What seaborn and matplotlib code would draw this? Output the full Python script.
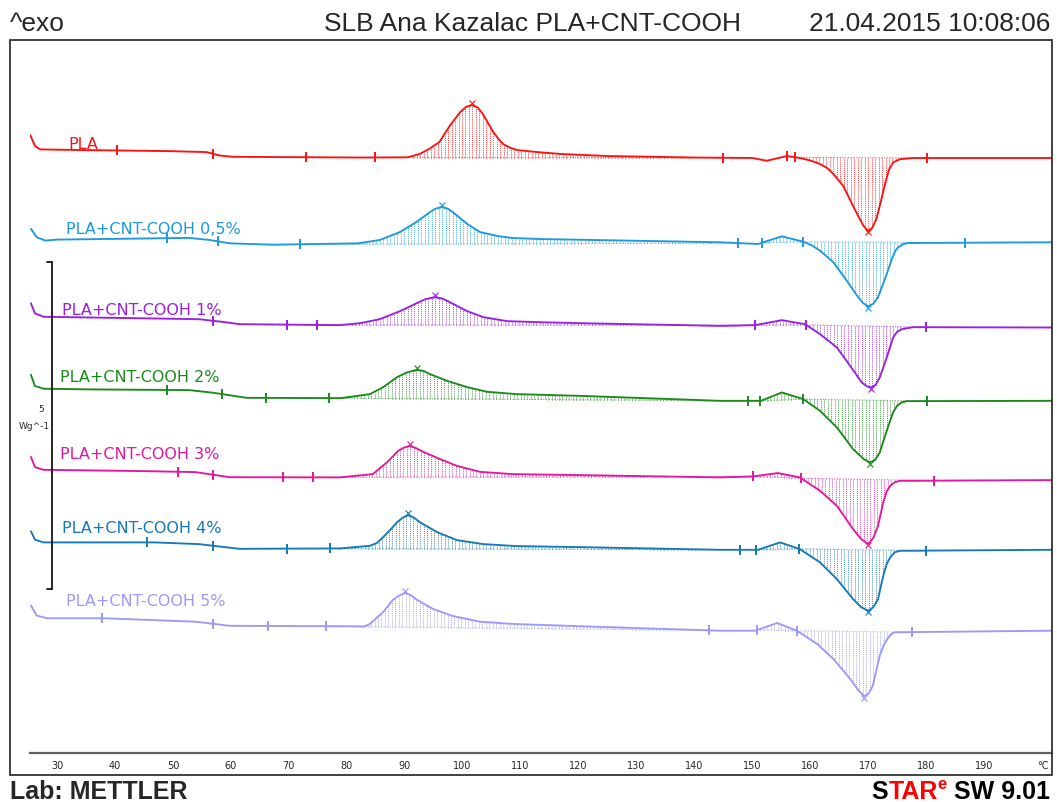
import numpy as np
import pandas as pd
import matplotlib
matplotlib.use("Agg")
import matplotlib.pyplot as plt
from matplotlib.ticker import AutoMinorLocator
import seaborn as sns

# DSC curves, temperature in degC, heat flow in W/g (relative to each curve start)
pla_t = [25.4, 26.2, 27.1, 33.6, 49.5, 55.8, 58.1, 60.4, 82.3, 90.5, 92.6, 94.3, 96.0, 97.8, 99.6,
         100.6, 101.6, 102.6, 103.5, 105.3, 106.2, 107.0, 108.2, 109.4, 112.8, 117.0, 125.0, 140.0,
         150.0, 152.5, 156.0, 158.2, 160.0, 161.7, 163.0, 164.0, 165.7, 167.4, 168.4, 169.2, 170.0,
         170.7, 171.4, 172.0, 173.0, 173.6, 174.3, 175.5, 177.8, 201.7]
pla_hf = [0.226, 0.061, 0.009, 0.0, -0.017, -0.032, -0.084, -0.104, -0.115, -0.112, -0.061, 0.020,
          0.122, 0.372, 0.581, 0.660, 0.688, 0.650, 0.550, 0.275, 0.170, 0.092, 0.035, 0.0, -0.031,
          -0.061, -0.092, -0.115, -0.122, -0.164, -0.092, -0.122, -0.160, -0.214, -0.280, -0.367,
          -0.550, -0.856, -1.030, -1.160, -1.239, -1.190, -1.060, -0.856, -0.489, -0.300, -0.190,
          -0.140, -0.122, -0.122]

c05_t = [25.5, 26.5, 28.0, 30.0, 52.8, 56.3, 59.8, 67.3, 82.0, 85.7, 89.2, 92.1, 94.4, 95.4, 96.4,
         97.4, 98.3, 100.8, 103.0, 106.0, 108.7, 113.4, 120.3, 144.4, 151.0, 155.1, 158.8, 160.3,
         161.7, 164.0, 166.3, 168.1, 169.1, 170.0, 170.9, 171.7, 172.9, 174.1, 174.7, 175.2, 176.0,
         176.9, 201.7]
c05_hf = [0.165, 0.037, -0.015, 0.0, 0.026, -0.005, -0.057, -0.078, -0.057, -0.006, 0.116, 0.274,
          0.422, 0.475, 0.498, 0.475, 0.422, 0.239, 0.116, 0.055, 0.024, 0.009, -0.002, -0.041,
          -0.067, 0.050, -0.032, -0.090, -0.170, -0.347, -0.628, -0.858, -0.970, -1.020, -0.980,
          -0.882, -0.602, -0.297, -0.170, -0.118, -0.070, -0.052, -0.041]

c1_t = [25.5, 26.2, 27.7, 46.9, 54.5, 58.6, 61.5, 78.8, 82.3, 85.7, 89.2, 92.1, 93.6, 95.2, 96.5,
        97.8, 100.8, 103.6, 107.7, 113.4, 120.3, 144.4, 150.5, 155.1, 159.1, 161.7, 164.6, 166.9,
        168.9, 169.8, 170.5, 171.3, 172.0, 173.3, 174.3, 175.0, 175.8, 177.7, 201.7]
c1_hf = [0.206, 0.050, 0.0, -0.026, -0.037, -0.078, -0.113, -0.128, -0.098, -0.037, 0.086, 0.208,
         0.270, 0.300, 0.280, 0.223, 0.086, -0.006, -0.067, -0.083, -0.098, -0.139, -0.128, -0.052,
         -0.113, -0.266, -0.469, -0.751, -1.005, -1.065, -1.081, -1.040, -0.928, -0.598, -0.317,
         -0.230, -0.190, -0.159, -0.164]

c2_t = [25.5, 26.2, 27.7, 36.4, 52.8, 56.9, 62.7, 79.0, 84.0, 86.3, 88.7, 90.4, 92.1, 93.3, 94.4,
        97.3, 100.8, 104.2, 109.4, 120.3, 144.4, 151.5, 155.1, 158.8, 161.7, 164.6, 167.4, 169.3,
        170.3, 171.2, 172.0, 173.3, 174.3, 175.0, 175.8, 176.6, 201.7]
c2_hf = [0.213, 0.041, 0.0, -0.011, -0.021, -0.061, -0.139, -0.144, -0.083, 0.024, 0.177, 0.250,
         0.289, 0.270, 0.223, 0.121, 0.024, -0.047, -0.083, -0.109, -0.185, -0.185, -0.057, -0.159,
         -0.338, -0.592, -0.924, -1.080, -1.127, -1.090, -0.974, -0.618, -0.362, -0.260, -0.209,
         -0.190, -0.185]

c3_t = [25.5, 26.2, 27.7, 45.2, 53.9, 59.8, 78.8, 84.5, 87.0, 88.9, 89.9, 90.9, 92.0, 93.2, 96.1,
        99.0, 103.0, 108.7, 120.3, 144.4, 150.1, 154.4, 158.2, 161.7, 164.6, 167.4, 168.8, 170.0,
        170.9, 171.7, 172.6, 173.2, 173.8, 174.6, 175.5, 201.7]
c3_hf = [0.197, 0.041, 0.0, -0.020, -0.035, -0.113, -0.116, -0.066, 0.118, 0.291, 0.340, 0.367,
         0.330, 0.275, 0.164, 0.061, -0.031, -0.066, -0.081, -0.116, -0.101, -0.050, -0.116, -0.321,
         -0.550, -0.907, -1.060, -1.136, -1.040, -0.856, -0.498, -0.330, -0.245, -0.190, -0.168,
         -0.157]

c4_t = [25.5, 26.2, 27.7, 46.9, 54.5, 61.5, 78.8, 84.0, 85.2, 86.3, 87.5, 88.7, 89.7, 90.6, 91.6,
        92.6, 95.6, 99.0, 103.6, 109.4, 120.3, 144.4, 151.0, 154.8, 158.2, 161.7, 164.6, 167.4,
        168.8, 170.0, 170.9, 171.7, 172.6, 173.2, 173.8, 174.6, 175.5, 201.7]
c4_hf = [0.170, 0.041, 0.0, 0.0, -0.026, -0.098, -0.092, -0.052, -0.010, 0.081, 0.190, 0.310,
         0.380, 0.417, 0.380, 0.310, 0.157, 0.035, -0.026, -0.057, -0.072, -0.113, -0.113, 0.0,
         -0.102, -0.306, -0.561, -0.867, -0.990, -1.046, -0.990, -0.867, -0.511, -0.330, -0.229,
         -0.150, -0.128, -0.113]

c5_t = [25.5, 26.5, 28.3, 38.2, 53.9, 59.8, 83.1, 84.0, 86.3, 88.0, 89.1, 90.1, 91.1, 92.1, 94.9,
        98.3, 103.0, 108.7, 120.3, 144.4, 150.5, 154.3, 157.7, 161.2, 164.0, 166.9, 168.3, 169.3,
        170.1, 170.8, 172.0, 172.7, 173.3, 174.0, 174.6, 201.7]
c5_hf = [0.196, 0.041, 0.0, 0.0, -0.052, -0.115, -0.124, -0.087, 0.096, 0.284, 0.350, 0.387, 0.350,
         0.284, 0.142, 0.035, -0.052, -0.087, -0.122, -0.190, -0.190, -0.072, -0.190, -0.393,
         -0.622, -0.928, -1.100, -1.193, -1.150, -1.031, -0.572, -0.410, -0.317, -0.240, -0.214,
         -0.190]

samples = ["PLA", "PLA+CNT-COOH 0,5%", "PLA+CNT-COOH 1%", "PLA+CNT-COOH 2%",
           "PLA+CNT-COOH 3%", "PLA+CNT-COOH 4%", "PLA+CNT-COOH 5%"]
temps = [pla_t, c05_t, c1_t, c2_t, c3_t, c4_t, c5_t]
flows = [pla_hf, c05_hf, c1_hf, c2_hf, c3_hf, c4_hf, c5_hf]
offsets = [9.22, 7.85, 6.67, 5.57, 4.33, 3.22, 2.06]   # curve shift on the plot, W/g
colors = ["#ff1010", "#1e98e0", "#9a1ee6", "#1a8a1a", "#e4169c", "#1479b8", "#9a9af8"]

# evaluation limits (integration markers) and integrated ranges, degC
marks = [
    [40.4, 56.9, 73.0, 84.9, 145.0, 156.0, 157.4, 180.2],
    [49.0, 57.8, 71.9, 147.5, 151.7, 158.8, 186.7],
    [57.0, 69.7, 74.9, 150.5, 159.3, 180.0],
    [49.0, 58.5, 66.0, 77.0, 149.3, 151.3, 158.8, 180.2],
    [50.9, 57.0, 69.0, 74.2, 150.1, 158.4, 181.4],
    [45.5, 57.0, 69.7, 77.1, 147.9, 150.6, 158.1, 180.0],
    [37.8, 57.0, 66.4, 76.4, 142.5, 150.8, 157.7, 177.6],
]
ranges = [
    [(84.9, 145.0), (157.4, 180.2)],
    [(71.9, 147.5), (151.7, 158.8), (158.8, 186.7)],
    [(74.9, 150.5), (150.5, 159.3), (159.3, 180.0)],
    [(77.0, 149.3), (151.3, 158.8), (158.8, 180.2)],
    [(74.2, 150.1), (150.1, 158.4), (158.4, 181.4)],
    [(77.1, 147.9), (150.6, 158.1), (158.1, 180.0)],
    [(76.4, 142.5), (150.8, 157.7), (157.7, 177.6)],
]
label_x = [31.95, 31.5, 30.8, 30.5, 30.5, 30.9, 31.5]
label_lift = [0.035, 0.098, 0.035, 0.119, 0.180, 0.161, 0.196]

sns.set_theme(style="white")
plt.rcParams['font.family'] = ['DejaVu Sans']

W, H = 1057, 803
fig = plt.figure(figsize=(W / 100, H / 100), dpi=100)
ax = fig.add_axes([30 / W, 49 / H, 1022 / W, 714 / H])

frames = []
for name, t, hf, off in zip(samples, temps, flows, offsets):
    frames.append(pd.DataFrame({"T": t, "HF": np.array(hf) + off, "sample": name}))
df = pd.concat(frames, ignore_index=True)

sns.lineplot(data=df, x="T", y="HF", hue="sample", hue_order=samples,
             palette=dict(zip(samples, colors)), estimator=None, sort=False,
             linewidth=1.35, legend=False, ax=ax)

for i, name in enumerate(samples):
    t = np.array(temps[i])
    y = np.array(flows[i]) + offsets[i]
    c = colors[i]
    # hatched integration areas
    for a, b in ranges[i]:
        ya, yb = np.interp(a, t, y), np.interp(b, t, y)
        xs = np.arange(a, b, 0.6)
        base = ya + (yb - ya) * (xs - a) / (b - a)
        ax.vlines(xs, base, np.interp(xs, t, y), colors=c, linestyles=(0, (1, 1)),
                  linewidth=0.7, alpha=0.8)
        ax.plot([a, b], [ya, yb], color=c, lw=0.8, ls=(0, (1, 1.5)), alpha=0.7)
    # limit markers
    mk = np.array(marks[i])
    ax.plot(mk, np.interp(mk, t, y), ls="none", marker="|", ms=7, mew=1.4, color=c)
    # peak markers
    sel = (t > 80) & (t < 120)
    ax.plot(t[sel][np.argmax(y[sel])], y[sel].max() + 0.03, marker="x", ms=5, mew=0.8, color=c)
    ax.plot(t[np.argmin(y)], y.min() - 0.02, marker="x", ms=5, mew=0.8, color=c)
    ax.text(label_x[i], offsets[i] + label_lift[i], name, color=c, fontsize=11.5,
            ha="left", va="baseline")

# 5 W/g scale bar
ax.plot([29.14, 29.14], [2.51, 7.51], color="black", lw=1.2)
ax.plot([28.3, 29.14], [7.51, 7.51], color="black", lw=1.2)
ax.plot([28.3, 29.14], [2.51, 2.51], color="black", lw=1.2)
ax.text(27.3, 5.26, "5", fontsize=6.5, ha="center", va="center")
ax.text(26.1, 5.0, "Wg^-1", fontsize=6.5, ha="center", va="center", clip_on=False)

ax.set_xlim(25.34, 201.73)
ax.set_ylim(0, 714 / 65.4)
ax.set_xlabel("")
ax.set_ylabel("")
ax.set_yticks([])
ax.set_xticks(np.arange(30, 200, 10))
ax.xaxis.set_minor_locator(AutoMinorLocator(7))
for s in ["top", "left", "right"]:
    ax.spines[s].set_visible(False)
ax.spines["bottom"].set_color("#606060")
ax.spines["bottom"].set_linewidth(1.6)
ax.tick_params(axis="x", which="major", direction="in", length=5, width=1, color="black",
               labelsize=7, pad=5)
ax.tick_params(axis="x", which="minor", direction="in", length=3, width=1, color="black")
ax.patch.set_alpha(0)

fig.text(1049 / W, 1 - 766 / H, "°C", fontsize=7, ha="right", va="center")

# outer frame
fig.add_artist(plt.Rectangle((10 / W, 1 - 776 / H), 1042 / W, 735 / H, fill=False,
                             lw=1.3, edgecolor="#333333", transform=fig.transFigure))

# header and footer
hfont = ['Liberation Sans', 'DejaVu Sans']
fig.text(10 / W, 1 - 24 / H, "^exo", fontsize=19, family=hfont, ha="left", va="center")
fig.text(532 / W, 1 - 24 / H, "SLB Ana Kazalac PLA+CNT-COOH", fontsize=19, family=hfont,
         ha="center", va="center")
fig.text(1050 / W, 1 - 24 / H, "21.04.2015 10:08:06", fontsize=19, family=hfont,
         ha="right", va="center")
fig.text(10 / W, 1 - 792 / H, "Lab: METTLER", fontsize=18, weight="bold", family=hfont,
         ha="left", va="center")

renderer = fig.canvas.get_renderer()
x = 1050 / W
for s, c, fs, dy in [(" SW 9.01", "black", 18, 0), ("e", "red", 12, 7), ("TAR", "red", 18, 0),
                     ("S", "black", 18, 0)]:
    t = fig.text(x, 1 - (792 - dy) / H, s, fontsize=fs, weight="bold", family=hfont, color=c,
                 ha="right", va="center")
    bb = t.get_window_extent(renderer)
    x = bb.x0 / fig.bbox.width

fig.savefig("out.png", dpi=100)
